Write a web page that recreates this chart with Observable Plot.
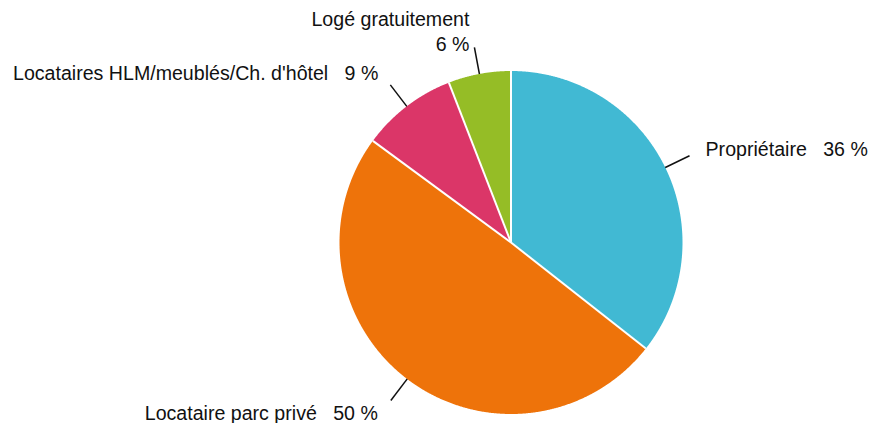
<!DOCTYPE html>
<html><head><meta charset="utf-8">
<script src="https://cdn.jsdelivr.net/npm/d3@7"></script>
<script src="https://cdn.jsdelivr.net/npm/@observablehq/plot@0.6"></script>
<style>body{margin:0;background:#fff}</style>
</head><body><div id="chart"></div>
<script>
const categories = ["Propriétaire", "Locataire parc privé", "Locataires HLM/meublés/Ch. d'hôtel", "Logé gratuitement"];
const shares = [35.6, 49.5, 9.0, 5.9];
const percentLabels = ["36 %", "50 %", "9 %", "6 %"];
const colors = ["#41b9d3", "#ee730a", "#db3668", "#95bd26"];

// label styling (offsets in px, leader extension in px)
const labelStyles = [
  {ext: 27, dx: 16, dy: -8, textAnchor: "start", lineAnchor: "middle", multi: false},
  {ext: 27, dx: -13, dy: 11.5, textAnchor: "end", lineAnchor: "middle", multi: false},
  {ext: 27, dx: -12, dy: -12.5, textAnchor: "end", lineAnchor: "middle", multi: false},
  {ext: 27, dx: -5, dy: 3.3, textAnchor: "end", lineAnchor: "bottom", multi: true}
];
const R = 171.5;

const arcs = d3.pie().sort(null).value(d => d)(shares);
const slices = arcs.map((p, i) => ({
  name: categories[i], a0: p.startAngle, a1: p.endAngle,
  mid: (p.startAngle + p.endAngle) / 2, pct: percentLabels[i], i
}));

const outline = slices.flatMap(s => {
  const n = Math.max(2, Math.ceil((s.a1 - s.a0) / 0.004));
  const pts = [{name: s.name, x: 0, y: 0}];
  for (let k = 0; k <= n; k++) {
    const a = s.a0 + (s.a1 - s.a0) * k / n;
    pts.push({name: s.name, x: Math.sin(a), y: Math.cos(a)});
  }
  pts.push({name: s.name, x: 0, y: 0});
  return pts;
});

const separators = slices.map(s => ({x1: 0, y1: 0, x2: Math.sin(s.a0), y2: Math.cos(s.a0)}));
const leaders = slices.map(s => {
  const r2 = 1 + labelStyles[s.i].ext / R;
  return {x1: 0.97 * Math.sin(s.mid), y1: 0.97 * Math.cos(s.mid), x2: r2 * Math.sin(s.mid), y2: r2 * Math.cos(s.mid)};
});

const textMarks = slices.map(s => {
  const st = labelStyles[s.i];
  const r2 = 1 + st.ext / R;
  const txt = st.multi ? `${s.name}\n${s.pct}` : `${s.name}\u00a0\u00a0\u00a0${s.pct}`;
  return Plot.text([{x: r2 * Math.sin(s.mid), y: r2 * Math.cos(s.mid), t: txt}], {
    x: "x", y: "y", text: "t", dx: st.dx, dy: st.dy,
    textAnchor: st.textAnchor, lineAnchor: st.lineAnchor, lineHeight: 1.26,
    fontSize: 19.6, fill: "#111"
  });
});

const chart = Plot.plot({
  width: 872, height: 423,
  x: {domain: [-1, 1], range: [510.5 - R, 510.5 + R], axis: null},
  y: {domain: [-1, 1], range: [242 + R, 242 - R], axis: null},
  color: {domain: categories, range: colors},
  style: {fontFamily: "'Liberation Sans', Arial, sans-serif", background: "#fff"},
  marks: [
    Plot.link(leaders, {x1: "x1", y1: "y1", x2: "x2", y2: "y2", stroke: "#111", strokeWidth: 1.5}),
    Plot.line(outline, {x: "x", y: "y", z: "name", fill: "name", stroke: "none", curve: "linear"}),
    Plot.link(separators, {x1: "x1", y1: "y1", x2: "x2", y2: "y2", stroke: "#fff", strokeWidth: 2}),
    ...textMarks
  ]
});
document.getElementById("chart").appendChild(chart);
</script>
</body></html>
